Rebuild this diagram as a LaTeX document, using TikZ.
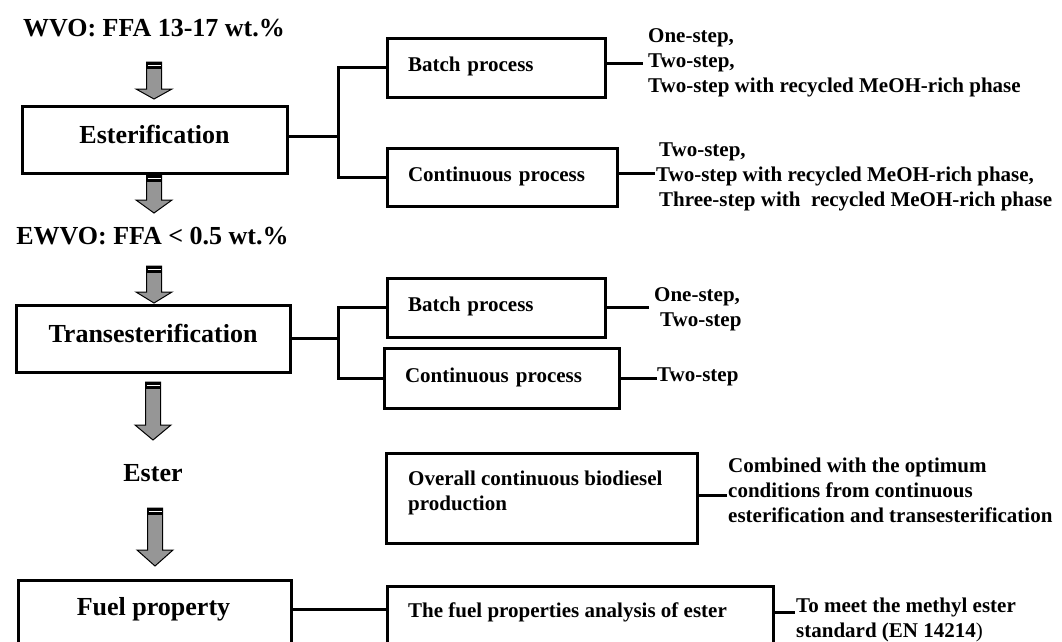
\documentclass[tikz,border=0pt]{standalone}
\usepackage{fontspec}
\setmainfont{Liberation Serif}
\definecolor{arrowgray}{RGB}{150,150,150}
\newcommand\BlockArrowDraw[4]{%
  \draw[line width=1pt, fill=arrowgray, line join=miter]
    (#1-7.5,#2) -- (#1+7.5,#2) -- (#1+7.5,#3) -- (#1+18,#3) -- (#1,#4)
    -- (#1-18,#3) -- (#1-7.5,#3) -- cycle;
  \fill[black] (#1-7.5,#2) rectangle (#1+7.5,#2+7);
  \draw[white, line width=0.9pt] (#1-6.5,#2+3.5) -- (#1+6.5,#2+3.5);
}
\begin{document}
\begin{tikzpicture}[x=1pt,y=-1pt,
  big/.style={font=\fontsize{26}{30}\selectfont\bfseries, inner sep=0pt},
  small/.style={font=\fontsize{21}{25}\selectfont\bfseries, inner sep=0pt, align=left},
  box/.style={draw, line width=3pt, rectangle, inner sep=0pt},
  bigbox/.style={box, font=\fontsize{26}{30}\selectfont\bfseries, text height=18pt, text depth=10pt},
  smallbox/.style={box, font=\fontsize{21}{25}\selectfont\bfseries, inner xsep=21pt, inner ysep=0pt, align=left, text height=14pt, text depth=6pt},
  conn/.style={line width=3pt, line join=miter},
]
\useasboundingbox (0,0) rectangle (1062,641);
\clip (0,0) rectangle (1062,641);

% left column
\node[big] (wvo) at (154,28.5) {WVO: FFA 13-17 wt.\%};
\node[bigbox, minimum width=265pt, minimum height=67pt] (est) at (154.5,139.5) {Esterification};
\node[big] (ewvo) at (152.5,236) {EWVO: FFA < 0.5 wt.\%};
\node[bigbox, minimum width=274pt, minimum height=67pt] (trans) at (153,338.5) {Transesterification};
\node[big] (ester) at (153,473.5) {Ester};
\node[box, anchor=north west, minimum width=273pt, minimum height=120pt] (fuel) at (17,579) {};
\node[big] (fuelt) at (153.5,609) {Fuel property};

% block arrows
\BlockArrowDraw{154}{62}{89}{99}
\BlockArrowDraw{154}{175}{200}{213}
\BlockArrowDraw{154}{266}{292}{303}
\BlockArrowDraw{153}{382}{425}{440}
\BlockArrowDraw{155}{508}{550}{566}

% esterification branch
\node[smallbox, minimum height=59pt, text width=176pt] (bb1) at (496,67.5) {Batch process};
\node[smallbox, minimum height=58pt, text width=188pt] (cb1) at (502,177) {Continuous process};
\node[small, anchor=west, inner xsep=5pt] (l1) at (643,62.5) {One-step,\\Two-step,\\Two-step with recycled MeOH-rich phase};
\node[small, anchor=west, inner xsep=1pt] (l2) at (655,177) {\hspace*{3pt}Two-step,\\Two-step with recycled MeOH-rich phase,\\\hspace*{3pt}Three-step with~ recycled MeOH-rich phase};

\coordinate (estc) at ([yshift=3.5pt]est.east);
\coordinate (j1) at (338,136);
\draw[conn] (estc) -- (j1);
\draw[conn] (bb1.west) -| (j1) |- (cb1.west);
\coordinate (bb1c) at ([yshift=4.5pt]bb1.east);
\draw[conn] (bb1c) -- (bb1c -| l1.west);
\coordinate (cb1c) at ([yshift=4pt]cb1.east);
\draw[conn] (cb1c) -- (cb1c -| l2.west);

% transesterification branch
\node[smallbox, minimum height=59pt, text width=176pt] (bb2) at (496,307.5) {Batch process};
\node[smallbox, minimum height=60pt, text width=193pt] (cb2) at (501.5,378) {Continuous process};
\node[small, anchor=west, inner xsep=5pt] (l3) at (649,309.5) {One-step,\\\hspace*{6pt}Two-step};
\node[small, anchor=west] (l4) at (657,377) {Two-step};

\coordinate (j2) at (338,338.5);
\draw[conn] (trans.east) -- (j2);
\draw[conn] (bb2.west) -| (j2) |- (cb2.west);
\draw[conn] (bb2.east) -- (bb2.east -| l3.west);
\draw[conn] (cb2.east) -- (cb2.east -| l4.west);

% overall continuous production
\node[box, minimum width=311pt, minimum height=90pt] (ov) at (541.5,498) {};
\node[small, anchor=west] (ovt) at (408,493) {Overall continuous biodiesel\\production};
\node[small, anchor=west, inner xsep=1pt] (l5) at (727,490) {Combined with the optimum\\conditions from continuous\\esterification and transesterification};
\coordinate (ovc) at ([yshift=3pt]ov.east);
\draw[conn] (ovc) -- (ovc -| l5.west);

% fuel property analysis
\node[box, anchor=north west, minimum width=386pt, minimum height=120pt] (fa) at (386,585) {};
\node[small, anchor=west] (fat) at (408,612) {The fuel properties analysis of ester};
\node[small, anchor=west, inner xsep=1pt] (l6) at (795,619.5) {To meet the methyl ester\\standard (EN 14214{\mdseries )}};
\draw[conn] (fuel.east |- fuelt) -- (fa.west |- fuelt);
\draw[conn] (fa.east |- fat) -- (l6.west |- fat);
\end{tikzpicture}
\end{document}
